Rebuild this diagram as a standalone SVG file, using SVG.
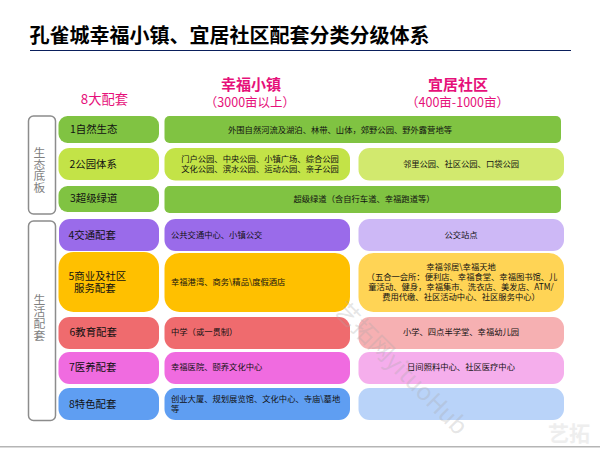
<svg xmlns="http://www.w3.org/2000/svg" width="600" height="450" viewBox="0 0 600 450">
<style>
text{font-family:"Noto Sans CJK SC","Liberation Sans",sans-serif;text-anchor:middle;fill:#111}
.c1{font-size:10.400px}
.c2{font-size:8.300px}
.hd{fill:#e6107a}
.side{fill:#fff;stroke:#8c8c8c;stroke-width:1.5}
.sidet{font-size:11.800px;fill:#7f7f7f;writing-mode:vertical-rl}
.l{text-anchor:start}
.green{fill:#80c342}.lime{fill:#c3e347}.limel{fill:#d2e96e}
.pur{fill:#9a6bea}.purl{fill:#cdb8f6}
.or{fill:#ffc000}.orl{fill:#ffd455}
.red{fill:#ef6b6e}.redl{fill:#f6b0b2}
.pink{fill:#f06be0}.pinkl{fill:#f5aeec}
.blue{fill:#5f9ef2}.bluel{fill:#b9d3f9}
</style>
<g id="title">
<text x="229.500" y="43" font-size="20" font-weight="700" style="fill:#000">孔雀城幸福小镇、宜居社区配套分类分级体系</text>
<rect x="30" y="50" width="541" height="1" fill="#0a1f5c"/>
</g>
<rect x="0" y="446" width="600" height="1.500" fill="#b5b5b5"/>
<g id="headers">
<text class="hd" x="104.500" y="104" font-size="13.300">8大配套</text>
<text class="hd" x="251" y="90" font-size="15" font-weight="700">幸福小镇</text>
<text class="hd" x="250" y="107" font-size="12.500">（3000亩以上）</text>
<text class="hd" x="458" y="90" font-size="15" font-weight="700">宜居社区</text>
<text class="hd" x="457.500" y="107" font-size="12.500">（400亩-1000亩）</text>
</g>
<g id="group-ecology">
<rect class="side" x="28.500" y="116" width="27" height="98" rx="5"/>
<text class="sidet" x="39.500" y="170">生态底板</text>
</g>
<g id="group-life">
<rect class="side" x="28.500" y="221" width="27" height="199.500" rx="5"/>
<text class="sidet" x="39.500" y="317.500">生活配套</text>
</g>
<g id="row1">
<rect class="green" x="58.500" y="116" width="100.500" height="27" rx="9"/>
<text class="c1 l" x="70" y="132.500">1自然生态</text>
<rect class="green" x="164.500" y="116" width="396.500" height="27" rx="5"/>
<text class="c2" x="340" y="132.500">外围自然河流及湖泊、林带、山体，郊野公园、野外露营地等</text>
</g>
<g id="row2">
<rect class="lime" x="58.500" y="148" width="100.500" height="32" rx="11"/>
<text class="c1 l" x="69.500" y="168">2公园体系</text>
<rect class="lime" x="164.500" y="148" width="185.500" height="32.500" rx="11"/>
<text class="c2" x="260" y="162">门户公园、中央公园、小镇广场、综合公园</text>
<text class="c2" x="260" y="172">文化公园、滨水公园、运动公园、亲子公园</text>
<rect class="limel" x="358.500" y="148" width="205.500" height="32.500" rx="11"/>
<text class="c2" x="461" y="167">邻里公园、社区公园、口袋公园</text>
</g>
<g id="row3">
<rect class="green" x="58.500" y="186" width="100.500" height="26" rx="9"/>
<text class="c1 l" x="70" y="201.500">3超级绿道</text>
<rect class="green" x="164.500" y="186" width="396.500" height="27" rx="5"/>
<text class="c2" x="364" y="202">超级绿道（含自行车道、幸福跑道等）</text>
</g>
<g id="row4">
<rect class="pur" x="59" y="219" width="100" height="32" rx="11"/>
<text class="c1 l" x="68.500" y="239">4交通配套</text>
<rect class="pur" x="164.500" y="219" width="185.500" height="32" rx="11"/>
<text class="c2 l" x="171" y="238">公共交通中心、小镇公交</text>
<rect class="purl" x="358.500" y="219" width="205.500" height="32" rx="11"/>
<text class="c2" x="461" y="238">公交站点</text>
</g>
<g id="row5">
<rect class="or" x="58.500" y="252" width="100.500" height="60" rx="15"/>
<text class="c1 l" x="68.500" y="280">5商业及社区</text>
<text class="c1 l" x="74" y="292">服务配套</text>
<rect class="or" x="164.500" y="253" width="185.500" height="59" rx="15"/>
<text class="c2 l" x="171" y="285">幸福港湾、商务\精品\度假酒店</text>
<rect class="orl" x="358.500" y="253" width="205.500" height="59" rx="15"/>
<text class="c2" x="461" y="270">幸福邻居\幸福天地</text>
<text class="c2" x="462" y="280">（五合一会所：便利店、幸福食堂、幸福图书馆、儿</text>
<text class="c2" x="461" y="290">童活动、健身，幸福集市、洗衣店、美发店、ATM/</text>
<text class="c2" x="461" y="300">费用代缴、社区活动中心、社区服务中心）</text>
</g>
<g id="row6">
<rect class="red" x="58.500" y="317" width="100.500" height="32" rx="11"/>
<text class="c1 l" x="69.500" y="336">6教育配套</text>
<rect class="red" x="164.500" y="317" width="185.500" height="32" rx="11"/>
<text class="c2 l" x="171" y="335">中学（或一贯制）</text>
<rect class="redl" x="358.500" y="317" width="205.500" height="32" rx="11"/>
<text class="c2" x="461" y="335">小学、四点半学堂、幸福幼儿园</text>
</g>
<g id="row7">
<rect class="pink" x="58.500" y="352" width="100.500" height="32" rx="11"/>
<text class="c1 l" x="69" y="371">7医养配套</text>
<rect class="pink" x="164.500" y="352" width="185.500" height="32" rx="11"/>
<text class="c2 l" x="171" y="370">幸福医院、颐养文化中心</text>
<rect class="pinkl" x="358.500" y="352" width="205.500" height="32" rx="11"/>
<text class="c2" x="461" y="370">日间照料中心、社区医疗中心</text>
</g>
<g id="row8">
<rect class="blue" x="58.500" y="388" width="100.500" height="32" rx="11"/>
<text class="c1 l" x="69" y="408">8特色配套</text>
<rect class="blue" x="164.500" y="388" width="185.500" height="32" rx="11"/>
<text class="c2 l" x="171" y="402">创业大厦、规划展览馆、文化中心、寺庙\墓地</text>
<text class="c2 l" x="171" y="412">等</text>
<rect class="bluel" x="358.500" y="388" width="205.500" height="32" rx="11"/>
</g>
<g id="watermark">
<text x="333" y="312" transform="rotate(45 333 312)" font-size="24" style="text-anchor:start;fill:#a8a8a8;fill-opacity:.3">艺拓网yituoHub</text>
<text x="569" y="441" font-size="21" font-weight="700" style="fill:#eeeeee">艺拓</text>
</g>
</svg>
